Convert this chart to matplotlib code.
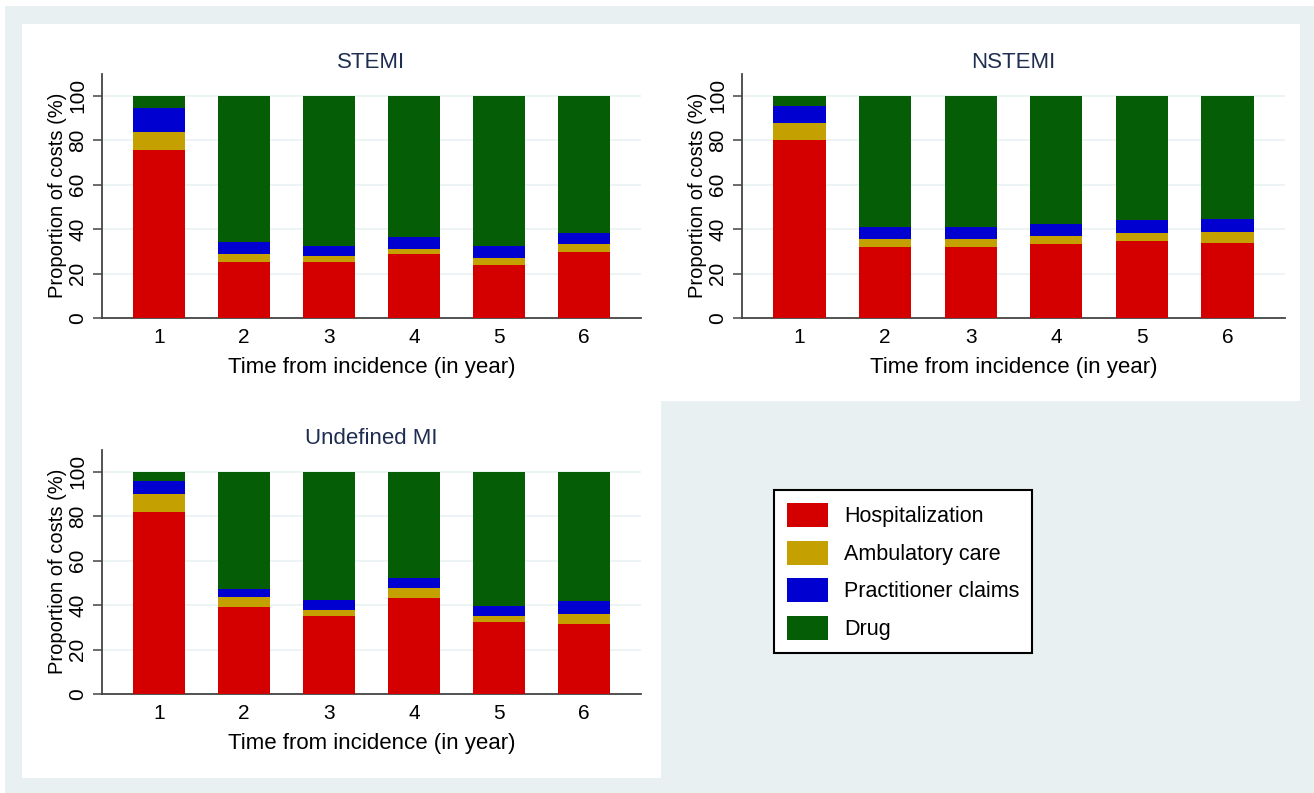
import matplotlib.pyplot as plt
import numpy as np
from matplotlib.patches import Rectangle, Patch

plt.rcParams['font.family'] = ['Liberation Sans', 'DejaVu Sans']

# values (% of costs per year since incidence)
years = [1, 2, 3, 4, 5, 6]
categories = ['Hospitalization', 'Ambulatory care', 'Practitioner claims', 'Drug']
colors = ['#d40000', '#c4a000', '#0000d0', '#055e05']

stemi_hosp = [75.4, 25.0, 25.0, 28.6, 23.7, 29.5]
stemi_amb = [8.1, 3.6, 2.7, 2.6, 3.5, 3.6]
stemi_prac = [11.2, 5.6, 4.7, 5.4, 5.2, 5.0]

nstemi_hosp = [79.9, 31.9, 31.9, 33.3, 34.6, 33.7]
nstemi_amb = [7.8, 3.8, 3.8, 3.7, 3.6, 4.8]
nstemi_prac = [7.5, 5.4, 5.3, 5.3, 5.7, 5.9]

undef_hosp = [81.7, 39.2, 34.9, 43.4, 32.5, 31.4]
undef_amb = [8.3, 4.5, 3.1, 4.5, 2.4, 4.7]
undef_prac = [5.7, 3.5, 4.5, 4.5, 4.9, 5.7]

W, H = 1314, 793
bg = '#e8f0f2'
navy = '#1e2d50'

fig = plt.figure(figsize=(W / 100, H / 100), dpi=100)
fig.patch.set_facecolor('white')


def px_rect(x0, y0, x1, y1, color):
    fig.add_artist(Rectangle((x0 / W, 1 - y1 / H), (x1 - x0) / W, (y1 - y0) / H,
                             transform=fig.transFigure, facecolor=color,
                             edgecolor='none', zorder=-10))


# outer background and the three white panels
px_rect(5, 6, W, H, bg)
px_rect(22, 24, 660, 401, 'white')
px_rect(660, 24, 1300, 401, 'white')
px_rect(22, 401, 661, 778, 'white')


def make_axes(left, right, y0):
    top = y0 - 244.5
    return fig.add_axes([left / W, 1 - y0 / H, (right - left) / W, (y0 - top) / H])


def draw_panel(ax, title, hosp, amb, prac):
    hosp = np.array(hosp)
    amb = np.array(amb)
    prac = np.array(prac)
    drug = 100 - hosp - amb - prac
    x = np.array(years)
    bottom = np.zeros(len(x))
    for vals, c in zip([hosp, amb, prac, drug], colors):
        ax.bar(x, vals, width=0.61, bottom=bottom, color=c, edgecolor='none', zorder=3)
        bottom = bottom + vals
    ax.set_xlim(0.33, 6.67)
    ax.set_ylim(0, 110)
    ax.set_yticks([0, 20, 40, 60, 80, 100])
    ax.set_xticks(years)
    ax.grid(axis='y', color='#eaf2f3', linewidth=1.2, zorder=0)
    ax.set_axisbelow(True)
    for s in ['top', 'right']:
        ax.spines[s].set_visible(False)
    for s in ['left', 'bottom']:
        ax.spines[s].set_color('#444444')
        ax.spines[s].set_linewidth(1.3)
    ax.tick_params(axis='x', length=0, pad=7.5, labelsize=15)
    ax.tick_params(axis='y', length=6.5, width=1.1, color='#444444', pad=4,
                   labelsize=15, labelrotation=90)
    plt.setp(ax.get_yticklabels(), va='center')
    ax.set_xlabel('Time from incidence (in year)', fontsize=16, labelpad=7)
    ax.set_ylabel('Proportion of costs (%)', fontsize=14.5, labelpad=1)
    ax.set_title(title, fontsize=16, color=navy, pad=4)


ax1 = make_axes(102, 641, 318)
draw_panel(ax1, 'STEMI', stemi_hosp, stemi_amb, stemi_prac)
ax2 = make_axes(742, 1285, 318)
draw_panel(ax2, 'NSTEMI', nstemi_hosp, nstemi_amb, nstemi_prac)
ax3 = make_axes(102, 641, 694)
draw_panel(ax3, 'Undefined MI', undef_hosp, undef_amb, undef_prac)

handles = [Patch(facecolor=c, edgecolor='none') for c in colors]
leg = fig.legend(handles, categories, loc='upper left',
                 bbox_to_anchor=(774 / W, 1 - 490 / H), fontsize=15.5,
                 frameon=True, fancybox=False, edgecolor='black', framealpha=1,
                 facecolor='white', handlelength=1.9, handleheight=1.35,
                 handletextpad=0.75, labelspacing=0.62, borderpad=0.6,
                 borderaxespad=0)
leg.get_frame().set_linewidth(1.5)

fig.savefig('out.png', dpi=100)
